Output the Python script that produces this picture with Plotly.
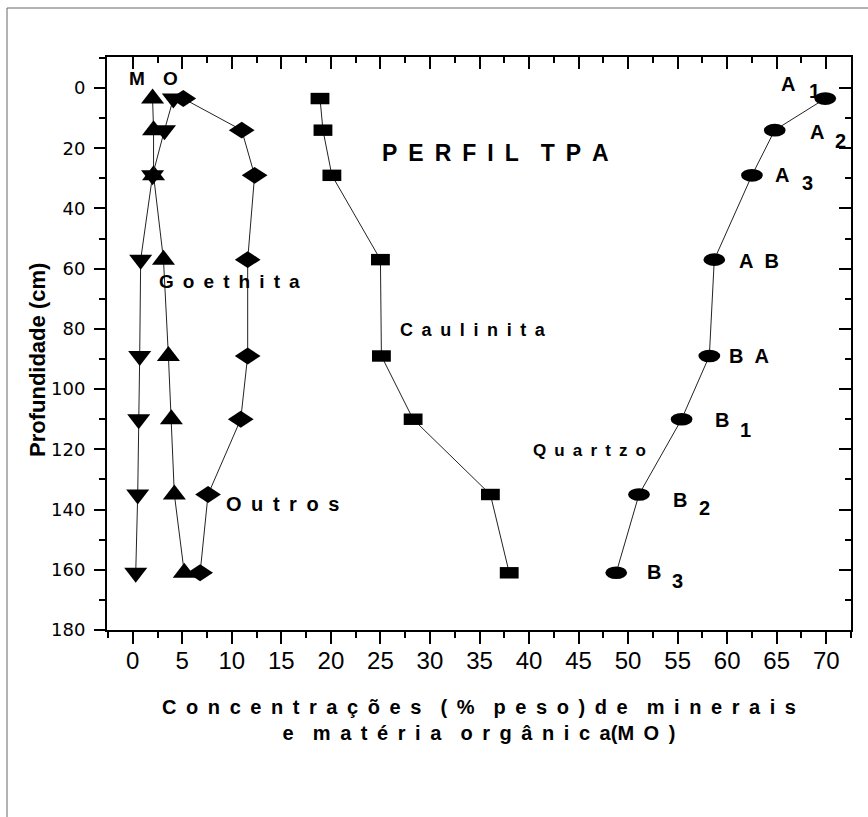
import plotly.graph_objects as go

# ---------------- data ----------------
depth = [3.5, 14, 29, 57, 89, 110, 135, 161]          # Profundidade (cm)
quartzo = [69.9, 64.8, 62.5, 58.7, 58.2, 55.4, 51.1, 48.8]
caulinita = [18.9, 19.2, 20.1, 25.0, 25.1, 28.3, 36.1, 38.0]
outros = [5.1, 11.0, 12.3, 11.6, 11.6, 10.9, 7.6, 6.8]
goethita = [2.0, 2.1, 2.1, 3.1, 3.6, 3.9, 4.2, 5.2]
mo = [4.1, 3.2, 2.0, 0.8, 0.7, 0.6, 0.5, 0.3]
horizon_letters = ["A", "A", "A", "A B", "B A", "B", "B", "B"]
horizon_digits = ["1", "2", "3", "", "", "1", "2", "3"]
x_tick_vals = list(range(0, 75, 5))
y_tick_vals = list(range(0, 200, 20))

# ---------------- layout constants ----------------
W, H = 868, 817
ML, MR, MT, MB = 107, 17, 57, 187
PW, PH = W - ML - MR, H - MT - MB
XR = [-2.6, 72.5]
YR = [180, -10.3]
NB = "\u00a0"
THIN = "\u2009"
UNIT = NB + THIN


def spaced(s, unit=UNIT):
    return s.replace(" ", unit)


def px_x(p):
    return (p - ML) / PW


def px_y(p):
    return (H - MB - p) / PH


FAM = "Liberation Sans, Arial, sans-serif"
BOLD = dict(family=FAM, size=20, color="black", weight="bold")
LINE = dict(color="#222222", width=1)

fig = go.Figure()

fig.add_trace(go.Scatter(x=quartzo, y=depth, mode="lines", line=LINE, name="Quartzo", hoverinfo="skip"))
fig.add_trace(go.Scatter(x=caulinita, y=depth, mode="lines", line=LINE, name="Caulinita", hoverinfo="skip"))
fig.add_trace(go.Scatter(x=outros, y=depth, mode="lines", line=LINE, name="Outros", hoverinfo="skip"))
fig.add_trace(go.Scatter(x=goethita, y=depth, mode="lines+markers", line=LINE, name="Goethita",
                         marker=dict(symbol="triangle-up", size=20, color="black", line=dict(width=0))))
fig.add_trace(go.Scatter(x=mo, y=depth, mode="lines+markers", line=LINE, name="MO",
                         marker=dict(symbol="triangle-down", size=20, color="black", line=dict(width=0))))
# carrier trace for the mirrored top/right axes
fig.add_trace(go.Scatter(x=quartzo, y=depth, xaxis="x2", yaxis="y2", mode="markers",
                         marker=dict(opacity=0), hoverinfo="skip", showlegend=False))

shapes = []
# Quartzo: flattened ellipses
for q, d in zip(quartzo, depth):
    shapes.append(dict(type="circle", xref="x", yref="y", x0=q - 1.1, x1=q + 1.1, y0=d - 2.1, y1=d + 2.1,
                       fillcolor="black", line=dict(width=0), layer="above"))
# Caulinita: flat rectangles
for c, d in zip(caulinita, depth):
    shapes.append(dict(type="rect", xref="x", yref="y", x0=c - 0.95, x1=c + 0.95, y0=d - 1.9, y1=d + 1.9,
                       fillcolor="black", line=dict(width=0), layer="above"))
# Outros: wide diamonds
DW, DH = 1.3, 2.8
for o, d in zip(outros, depth):
    path = f"M {o - DW},{d} L {o},{d - DH} L {o + DW},{d} L {o},{d + DH} Z"
    shapes.append(dict(type="path", xref="x", yref="y", path=path,
                       fillcolor="black", line=dict(width=0), layer="above"))
# outer frame of the picture
shapes.append(dict(type="rect", xref="paper", yref="paper", x0=px_x(7), x1=px_x(W + 5),
                   y0=px_y(H + 5), y1=px_y(8), line=dict(color="#666666", width=1), layer="below"))

annotations = []
letter_off = [(-46, 15), (33, -2), (21, 0), (23, -1), (18, 0), (31, -1), (32, -5), (29, 1)]
digit_off = [(-18, 8), (58, -11), (48, -8), (0, 0), (0, 0), (56, -11), (58, -13), (54, -8)]
for q, d, lt, dg, lo, do in zip(quartzo, depth, horizon_letters, horizon_digits, letter_off, digit_off):
    annotations.append(dict(x=q, y=d, xref="x", yref="y", text=spaced(lt, NB * 2), showarrow=False,
                            xanchor="left", yanchor="middle", xshift=lo[0], yshift=lo[1], font=BOLD))
    if dg:
        annotations.append(dict(x=q, y=d, xref="x", yref="y", text=dg, showarrow=False,
                                xanchor="left", yanchor="middle", xshift=do[0], yshift=do[1], font=BOLD))

labels = [
    ("M  O", -0.6, -3.3, 19),
    ("P E R F I L  T P A", 25.0, 21.5, 23),
    ("G o e t h i t a", 2.4, 64.3, 19),
    ("C a u l i n i t a", 26.75, 80.2, 18),
    ("Q u a r t z o", 40.2, 120.3, 17),
    ("O u t r o s", 9.25, 138.2, 20),
]
for t, x, y, s in labels:
    annotations.append(dict(x=x, y=y, xref="x", yref="y", text=spaced(t), showarrow=False,
                            xanchor="left", yanchor="middle", font=dict(BOLD, size=s)))

# y-axis title placed as rotated text beside the tick labels
annotations.append(dict(x=px_x(37), y=px_y(360), xref="paper", yref="paper", text="Profundidade (cm)",
                        textangle=-90, showarrow=False, xanchor="center", yanchor="middle",
                        font=dict(BOLD, size=22)))

xtitle = (spaced("C o n c e n t r a ç õ e s  ( %  p e s o ) d e  m i n e r a i s") + "<br>" +
          spaced("e  m a t é r i a  o r g â n i c a(M O )"))

axis_common = dict(showline=True, linewidth=2, linecolor="black", showgrid=False, zeroline=False,
                   tickcolor="black", tickwidth=2)

fig.update_layout(
    width=W, height=H, margin=dict(l=ML, r=MR, t=MT, b=MB, pad=0),
    paper_bgcolor="white", plot_bgcolor="white", showlegend=False,
    shapes=shapes, annotations=annotations,
    xaxis=dict(axis_common, range=XR, tickmode="array", tickvals=x_tick_vals, ticks="outside", ticklen=12,
               ticklabelstandoff=-4,
               tickfont=dict(family="Liberation Sans Narrow, Liberation Sans, Arial", size=24, color="black"),
               minor=dict(tickmode="linear", tick0=0, dtick=2.5, ticks="outside", ticklen=6, tickwidth=2,
                          tickcolor="black"),
               title=dict(text=xtitle, standoff=27, font=dict(BOLD, size=20)), automargin=False),
    yaxis=dict(axis_common, range=YR, tickmode="array", tickvals=y_tick_vals, ticks="outside", ticklen=11,
               ticklabelstandoff=5,
               tickfont=dict(family="DejaVu Sans", size=18, color="black"),
               minor=dict(tickmode="linear", tick0=0, dtick=10, ticks="outside", ticklen=6, tickwidth=2,
                          tickcolor="black"),
               automargin=False),
    xaxis2=dict(axis_common, overlaying="x", side="top", anchor="y", range=XR, tickmode="array",
                tickvals=x_tick_vals, ticks="inside", ticklen=12, showticklabels=False,
                minor=dict(tickmode="linear", tick0=0, dtick=2.5, ticks="inside", ticklen=6, tickwidth=2,
                           tickcolor="black")),
    yaxis2=dict(axis_common, overlaying="y", side="right", anchor="x", range=YR, tickmode="array",
                tickvals=y_tick_vals, ticks="inside", ticklen=12, showticklabels=False,
                minor=dict(tickmode="linear", tick0=0, dtick=10, ticks="inside", ticklen=6, tickwidth=2,
                           tickcolor="black")),
)

fig.write_html("out.html")
